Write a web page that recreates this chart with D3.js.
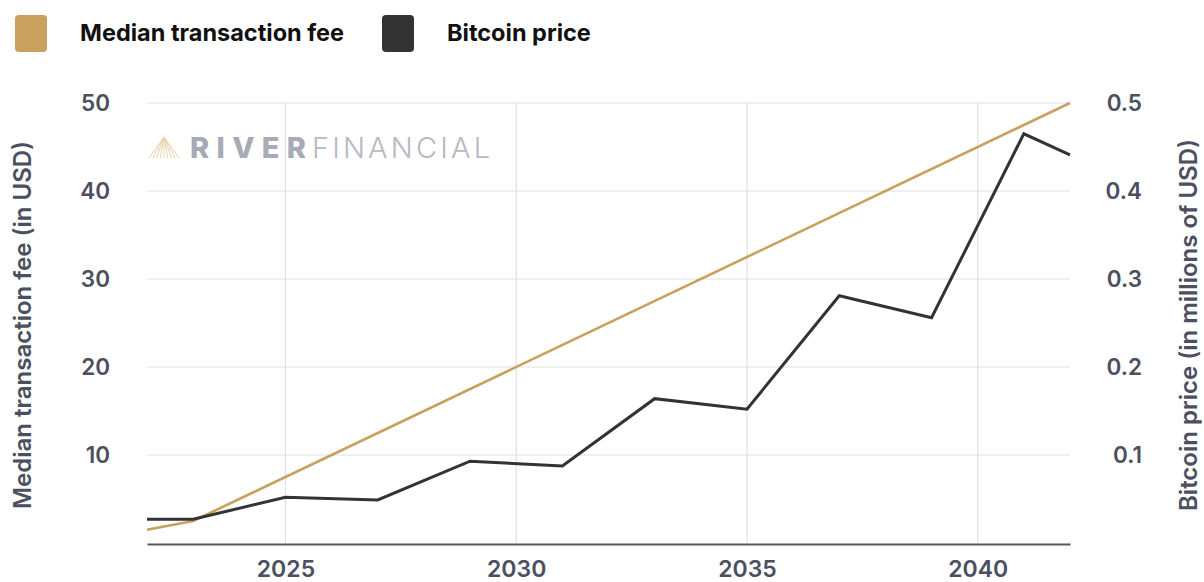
<!DOCTYPE html>
<html>
<head>
<meta charset="utf-8">
<script src="https://cdn.jsdelivr.net/npm/d3@7"></script>
<style>
  html, body { margin: 0; padding: 0; background: #fff; }
  svg { display: block; font-family: Inter, "Noto Sans", sans-serif; }
</style>
</head>
<body>
<svg id="chart" width="1204" height="582"></svg>
<script>
// ---- data ----
const feeYears = [2022, 2023, 2042];
const feeValues = [1.5, 2.5, 50];
const priceYears = [2022, 2023, 2025, 2027, 2029, 2031, 2033, 2035, 2037, 2039, 2041, 2042];
const priceValues = [0.027, 0.027, 0.052, 0.049, 0.093, 0.0875, 0.164, 0.152, 0.281, 0.256, 0.465, 0.441];
const xTicks = [2025, 2030, 2035, 2040];
const leftTicks = [10, 20, 30, 40, 50];
const rightTicks = [0.1, 0.2, 0.3, 0.4, 0.5];
const seriesNames = ["Median transaction fee", "Bitcoin price"];
const leftTitle = "Median transaction fee (in USD)";
const rightTitle = "Bitcoin price (in millions of USD)";

const GOLD = "#c8a15e", DARK = "#333333", TXT = "#4b4f5e";

const svg = d3.select("#chart");
const m = {left: 147, right: 1070, top: 103, bottom: 543};

const x = d3.scaleLinear().domain([2022, 2042]).range([m.left, m.right]);
const yL = d3.scaleLinear().domain([0, 50]).range([m.bottom, m.top]);
const yR = d3.scaleLinear().domain([0, 0.5]).range([m.bottom, m.top]);

// gridlines
svg.append("g").selectAll("line").data(leftTicks).join("line")
  .attr("x1", m.left).attr("x2", m.right)
  .attr("y1", d => yL(d)).attr("y2", d => yL(d))
  .attr("stroke", "#e0e0e3").attr("stroke-width", 1.2);
svg.append("g").selectAll("line").data(xTicks).join("line")
  .attr("x1", d => x(d)).attr("x2", d => x(d))
  .attr("y1", m.top).attr("y2", m.bottom)
  .attr("stroke", "#e0e0e3").attr("stroke-width", 1.2);

// logo watermark
const logo = svg.append("g");
const apexX = 164, apexY = 137, baseY = 158;
for (let i = 0; i < 9; i++) {
  const t = i / 8;
  logo.append("line")
    .attr("x1", apexX).attr("y1", apexY)
    .attr("x2", 149 + t * 30).attr("y2", baseY)
    .attr("stroke", "#e6d4ae").attr("stroke-width", 1);
}
logo.append("text").attr("x", 190).attr("y", baseY)
  .attr("font-size", 29).attr("font-weight", 800)
  .attr("textLength", 116).attr("lengthAdjust", "spacing")
  .attr("fill", "#a8aab6").text("RIVER");
logo.append("text").attr("x", 312).attr("y", baseY)
  .attr("font-size", 29).attr("font-weight", 300)
  .attr("textLength", 178).attr("lengthAdjust", "spacing")
  .attr("fill", "#b7b9c3").text("FINANCIAL");

// axes
const tickFont = 22.5;
const xAxis = svg.append("g").attr("transform", `translate(0,${m.bottom + 1})`)
  .call(d3.axisBottom(x).tickValues(xTicks).tickFormat(d3.format("d")).tickSize(0).tickPadding(17));
xAxis.select(".domain").attr("stroke", "#55575e").attr("stroke-width", 2.2);
xAxis.selectAll("text").attr("font-size", 23).attr("font-weight", 600).attr("fill", TXT)
  .attr("font-family", "Inter, sans-serif");

const lAxis = svg.append("g").attr("transform", `translate(${m.left},0)`)
  .call(d3.axisLeft(yL).tickValues(leftTicks).tickSize(0).tickPadding(37));
lAxis.select(".domain").remove();
lAxis.selectAll("text").attr("font-size", tickFont).attr("font-weight", 600).attr("fill", TXT)
  .attr("font-family", "Inter, sans-serif");

const rAxis = svg.append("g").attr("transform", `translate(${m.right},0)`)
  .call(d3.axisRight(yR).tickValues(rightTicks).tickFormat(d3.format(".1f")).tickSize(0).tickPadding(72));
rAxis.select(".domain").remove();
rAxis.selectAll("text").attr("font-size", tickFont).attr("font-weight", 600).attr("fill", TXT)
  .attr("text-anchor", "end").attr("font-family", "Inter, sans-serif");

// axis titles
svg.append("text").attr("transform", `translate(31,325) rotate(-90)`)
  .attr("text-anchor", "middle").attr("font-size", 24).attr("font-weight", 600)
  .attr("fill", TXT).text(leftTitle);
svg.append("text").attr("transform", `translate(1197,325) rotate(-90)`)
  .attr("text-anchor", "middle").attr("font-size", 24).attr("font-weight", 600)
  .attr("fill", TXT).text(rightTitle);

// lines
const feeData = feeYears.map((d, i) => [d, feeValues[i]]);
const priceData = priceYears.map((d, i) => [d, priceValues[i]]);
svg.append("path").datum(feeData)
  .attr("fill", "none").attr("stroke", GOLD).attr("stroke-width", 2.6)
  .attr("d", d3.line().x(d => x(d[0])).y(d => yL(d[1])));
svg.append("path").datum(priceData)
  .attr("fill", "none").attr("stroke", DARK).attr("stroke-width", 3).attr("stroke-linejoin", "miter")
  .attr("d", d3.line().x(d => x(d[0])).y(d => yR(d[1])));

// legend
const legend = svg.append("g");
const legX = [15, 382];
const legColors = [GOLD, DARK];
seriesNames.forEach((name, i) => {
  legend.append("rect").attr("x", legX[i]).attr("y", 15).attr("width", 32).attr("height", 37)
    .attr("rx", 4).attr("fill", legColors[i]);
  legend.append("text").attr("x", legX[i] + 65).attr("y", 41)
    .attr("font-size", 23.5).attr("font-weight", 700).attr("fill", "#111").text(name);
});
</script>
</body>
</html>
